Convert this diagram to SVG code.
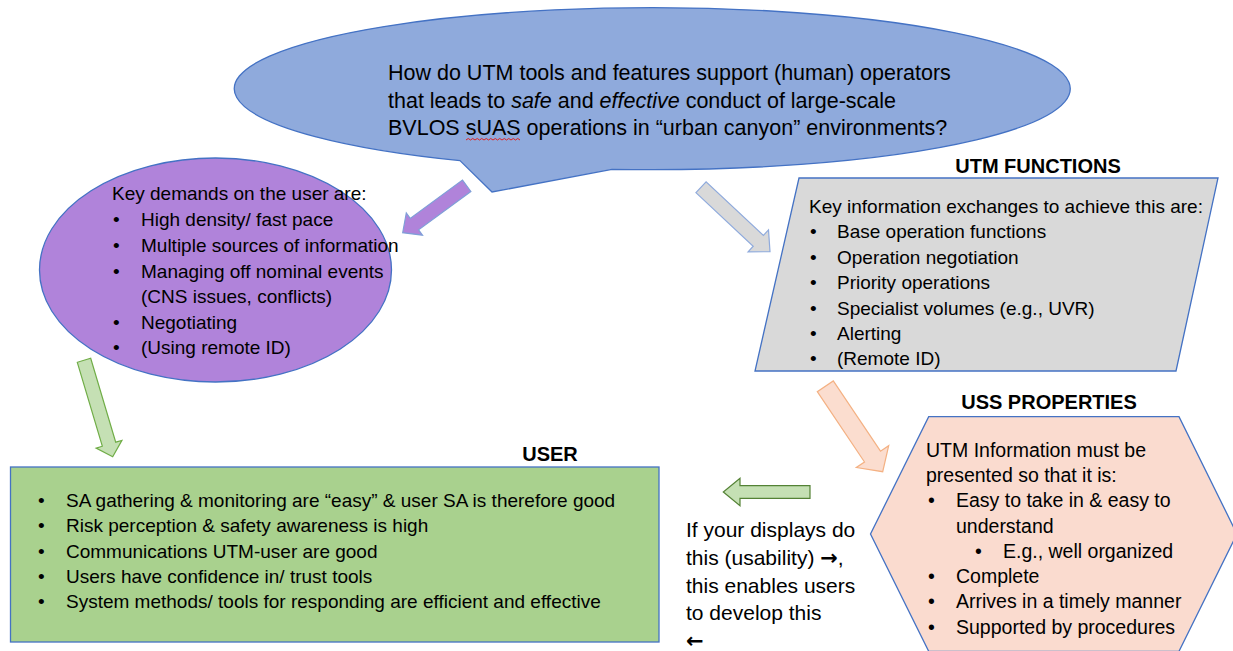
<svg xmlns="http://www.w3.org/2000/svg" width="1233" height="651" viewBox="0 0 1233 651">
<style>
text{font-family:"Liberation Sans",Arial,sans-serif;fill:#000}
.title{font-size:21.5px}
.body{font-size:19px}
.hex{font-size:19.5px}
.note{font-size:21px}
.sym{font-family:"DejaVu Sans",sans-serif;font-weight:bold}
.head{font-size:20px;font-weight:bold;text-anchor:middle}
.shape{stroke:#4472C4;stroke-width:1.3}
</style>
<rect width="1233" height="651" fill="#FFFFFF"/>

<g id="question">
<path class="shape" d="M 460 160.6 L 492 192 L 612 169.3 A 418 81 0 1 0 460 160.6 Z" fill="#8FAADC"/>
<text class="title" x="388" y="80">How do UTM tools and features support (human) operators</text>
<text class="title" x="388" y="107.5">that leads to <tspan font-style="italic">safe</tspan> and <tspan font-style="italic">effective</tspan> conduct of large-scale</text>
<text class="title" x="388" y="135">BVLOS sUAS operations in “urban canyon” environments?</text>
<path d="M466 140 l2.25 -1.5 l2.25 1.5 l2.25 -1.5 l2.25 1.5 l2.25 -1.5 l2.25 1.5 l2.25 -1.5 l2.25 1.5 l2.25 -1.5 l2.25 1.5 l2.25 -1.5 l2.25 1.5 l2.25 -1.5 l2.25 1.5 l2.25 -1.5 l2.25 1.5 l2.25 -1.5 l2.25 1.5 l2.25 -1.5 l2.25 1.5 l2.25 -1.5 l2.25 1.5 l2.25 -1.5 l2.25 1.5" fill="none" stroke="#E02020" stroke-width="1"/>
</g>

<g id="demands">
<ellipse class="shape" cx="215.5" cy="270" rx="176" ry="112" fill="#B083DA"/>
<text class="body" x="112" y="200">Key demands on the user are:</text>
<text class="body" x="113" y="226">•</text><text class="body" x="141" y="226">High density/ fast pace</text>
<text class="body" x="113" y="251.5">•</text><text class="body" x="141" y="251.5">Multiple sources of information</text>
<text class="body" x="113" y="277.5">•</text><text class="body" x="141" y="277.5">Managing off nominal events</text>
<text class="body" x="141" y="303">(CNS issues, conflicts)</text>
<text class="body" x="113" y="328.5">•</text><text class="body" x="141" y="328.5">Negotiating</text>
<text class="body" x="113" y="354">•</text><text class="body" x="141" y="354">(Using remote ID)</text>
</g>

<g id="utm-functions">
<text class="head" x="1038" y="173">UTM FUNCTIONS</text>
<polygon class="shape" points="799,178 1218,178 1176,371 755,371" fill="#D9D9D9"/>
<text class="body" x="809" y="213">Key information exchanges to achieve this are:</text>
<text class="body" x="810" y="238">•</text><text class="body" x="837" y="238">Base operation functions</text>
<text class="body" x="810" y="263.5">•</text><text class="body" x="837" y="263.5">Operation negotiation</text>
<text class="body" x="810" y="289">•</text><text class="body" x="837" y="289">Priority operations</text>
<text class="body" x="810" y="314.5">•</text><text class="body" x="837" y="314.5">Specialist volumes (e.g., UVR)</text>
<text class="body" x="810" y="339.5">•</text><text class="body" x="837" y="339.5">Alerting</text>
<text class="body" x="810" y="365">•</text><text class="body" x="837" y="365">(Remote ID)</text>
</g>

<g id="uss-properties">
<text class="head" x="1049" y="409">USS PROPERTIES</text>
<polygon class="shape" points="928.7,416.7 1179,416.7 1237,534 1179,651.3 928.7,651.3 870.5,534" fill="#FADBCF" stroke="#3F63A8"/>
<text class="hex" x="926" y="456.5">UTM Information must be</text>
<text class="hex" x="926" y="481.5">presented so that it is:</text>
<text class="hex" x="928" y="507">•</text><text class="hex" x="956" y="507">Easy to take in &amp; easy to</text>
<text class="hex" x="956" y="533">understand</text>
<text class="hex" x="975" y="558">•</text><text class="hex" x="1003" y="558">E.g., well organized</text>
<text class="hex" x="928" y="583">•</text><text class="hex" x="956" y="583">Complete</text>
<text class="hex" x="928" y="608">•</text><text class="hex" x="956" y="608">Arrives in a timely manner</text>
<text class="hex" x="928" y="633.5">•</text><text class="hex" x="956" y="633.5">Supported by procedures</text>
</g>

<g id="user">
<text class="head" x="550" y="461">USER</text>
<rect class="shape" x="10.5" y="467" width="648.5" height="175" fill="#A9D18E"/>
<text class="body" x="38" y="506.5">•</text><text class="body" x="66" y="506.5">SA gathering &amp; monitoring are “easy” &amp; user SA is therefore good</text>
<text class="body" x="38" y="532">•</text><text class="body" x="66" y="532">Risk perception &amp; safety awareness is high</text>
<text class="body" x="38" y="558">•</text><text class="body" x="66" y="558">Communications UTM-user are good</text>
<text class="body" x="38" y="583">•</text><text class="body" x="66" y="583">Users have confidence in/ trust tools</text>
<text class="body" x="38" y="608">•</text><text class="body" x="66" y="608">System methods/ tools for responding are efficient and effective</text>
</g>

<g id="usability-note">
<text class="note" x="686" y="537">If your displays do</text>
<text class="note" x="686" y="564.5">this (usability) <tspan class="sym">→</tspan>,</text>
<text class="note" x="686" y="592.5">this enables users</text>
<text class="note" x="686" y="620">to develop this</text>
<text class="note sym" x="686" y="648">←</text>
</g>

<g id="connectors" stroke-width="1.2" stroke-linejoin="miter">
<polygon id="arrow-question-demands" points="470.9,191.5 418.6,229.8 422.5,235.2 402.7,232.7 406.3,213.0 410.2,218.4 462.5,180.1" fill="#B083DA" stroke="#7F9FD8"/>
<polygon id="arrow-question-functions" points="695.9,192.6 753.2,246.2 748.1,251.8 770,251.7 768.5,229.9 763.4,235.4 706.1,181.8" fill="#D9D9D9" stroke="#8FAADC"/>
<polygon id="arrow-functions-uss" points="817.3,391.7 864.5,462.0 856.3,467.5 882.7,471.7 888.7,445.7 880.5,451.2 833.3,380.9" fill="#FBDDCF" stroke="#F4B183"/>
<polygon id="arrow-demands-user" points="77.3,362.3 102.3,446.2 96.1,448.1 112.7,456.7 121.9,440.4 115.7,442.2 90.7,358.3" fill="#C5E0B4" stroke="#70AD47"/>
<polygon id="arrow-uss-user" points="810,485.7 740,485.7 740,478.3 723.3,492 740,505.7 740,498.3 810,498.3" fill="#C5E0B4" stroke="#548235"/>
</g>
</svg>
